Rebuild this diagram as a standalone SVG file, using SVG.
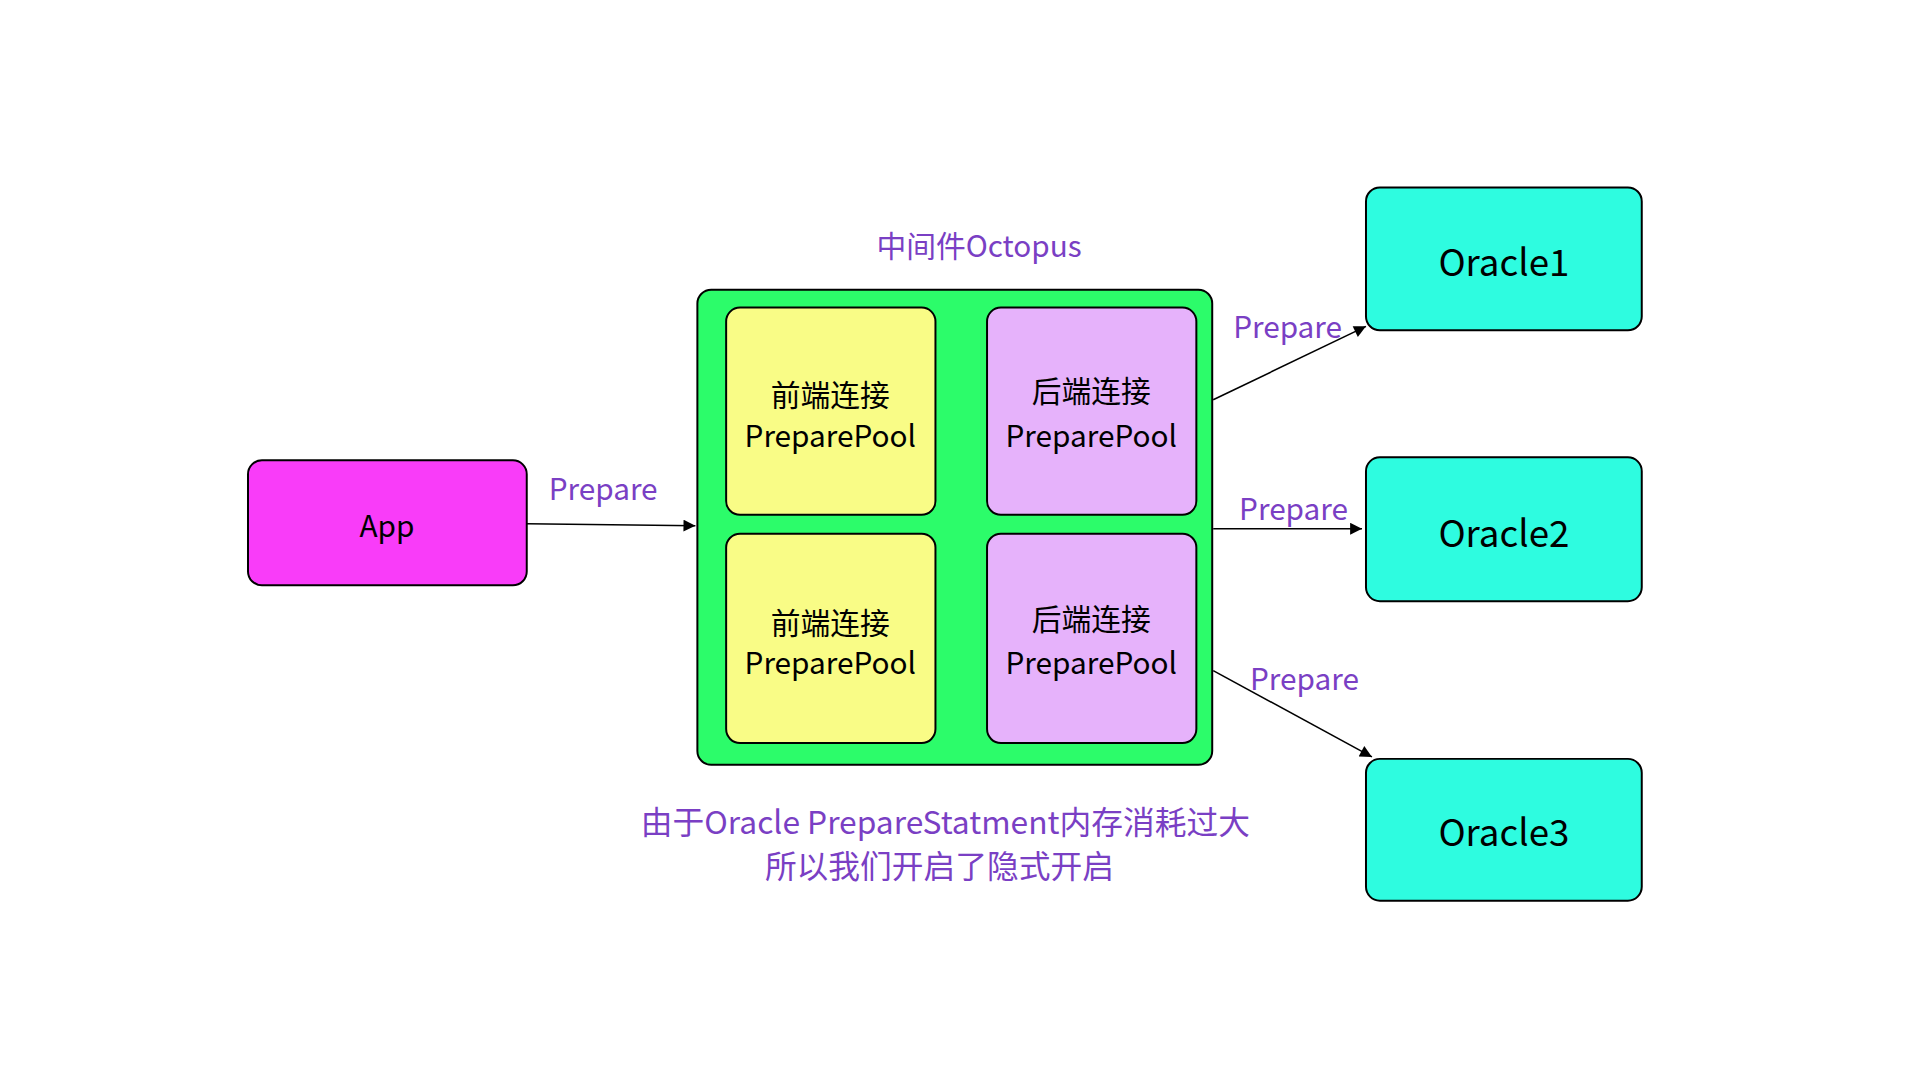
<svg xmlns="http://www.w3.org/2000/svg" width="1920" height="1080" viewBox="0 0 1920 1080">
<style>
text{font-family:"Noto Sans CJK SC","Liberation Sans",sans-serif;text-anchor:middle;dominant-baseline:central}
.n{stroke:#000;stroke-width:2}
.t{font-size:30px;fill:#000}
.big{font-size:37px;fill:#000}
.lbl{font-size:30px;fill:#7a3fc4}
.note{font-size:32px;fill:#7a3fc4}
.c{stroke:#000;stroke-width:1.6;fill:none;marker-end:url(#a)}
</style>
<defs><marker id="a" viewBox="0 0 10 10" refX="10" refY="5" markerWidth="16" markerHeight="12" markerUnits="userSpaceOnUse" orient="auto"><path d="M0,0L10,5L0,10z" fill="#000"/></marker></defs>
<rect width="1920" height="1080" fill="#fff"/>
<g transform="scale(0.992)">
<g id="app"><rect class="n" x="250" y="464" width="281" height="126" rx="14" fill="#f93cf9"/><text class="t" x="390" y="528">App</text></g>
<g id="octopus"><text class="lbl" x="987" y="246">中间件Octopus</text><rect class="n" x="703" y="292" width="519" height="479" rx="14" fill="#2cfc6a"/></g>
<g id="f1"><rect class="n" x="732" y="310" width="211" height="209" rx="14" fill="#f9fc86"/><text class="t" x="837" y="396">前端连接</text><text class="t" x="837" y="438">PreparePool</text></g>
<g id="b1"><rect class="n" x="995" y="310" width="211" height="209" rx="14" fill="#e6b2fb"/><text class="t" x="1100" y="392">后端连接</text><text class="t" x="1100" y="438">PreparePool</text></g>
<g id="f2"><rect class="n" x="732" y="538" width="211" height="211" rx="14" fill="#f9fc86"/><text class="t" x="837" y="626">前端连接</text><text class="t" x="837" y="666">PreparePool</text></g>
<g id="b2"><rect class="n" x="995" y="538" width="211" height="211" rx="14" fill="#e6b2fb"/><text class="t" x="1100" y="622">后端连接</text><text class="t" x="1100" y="666">PreparePool</text></g>
<g id="o1"><rect class="n" x="1377" y="189" width="278" height="144" rx="14" fill="#2efce0"/><text class="big" x="1516" y="262">Oracle1</text></g>
<g id="o2"><rect class="n" x="1377" y="461" width="278" height="145" rx="14" fill="#2efce0"/><text class="big" x="1516" y="535">Oracle2</text></g>
<g id="o3"><rect class="n" x="1377" y="765" width="278" height="143" rx="14" fill="#2efce0"/><text class="big" x="1516" y="837">Oracle3</text></g>
<g id="note"><text class="note" x="953" y="827">由于Oracle PrepareStatment内存消耗过大</text><text class="note" x="947" y="871">所以我们开启了隐式开启</text></g>
<g id="connectors">
<path class="c" d="M531,528L701,530"/><text class="lbl" x="608" y="491">Prepare</text>
<path class="c" d="M1223,403L1377,329"/><text class="lbl" x="1298" y="328">Prepare</text>
<path class="c" d="M1223,533L1373,533"/><text class="lbl" x="1304" y="511">Prepare</text>
<path class="c" d="M1223,676L1383,763"/><text class="lbl" x="1315" y="682">Prepare</text>
</g>
</g>
</svg>
